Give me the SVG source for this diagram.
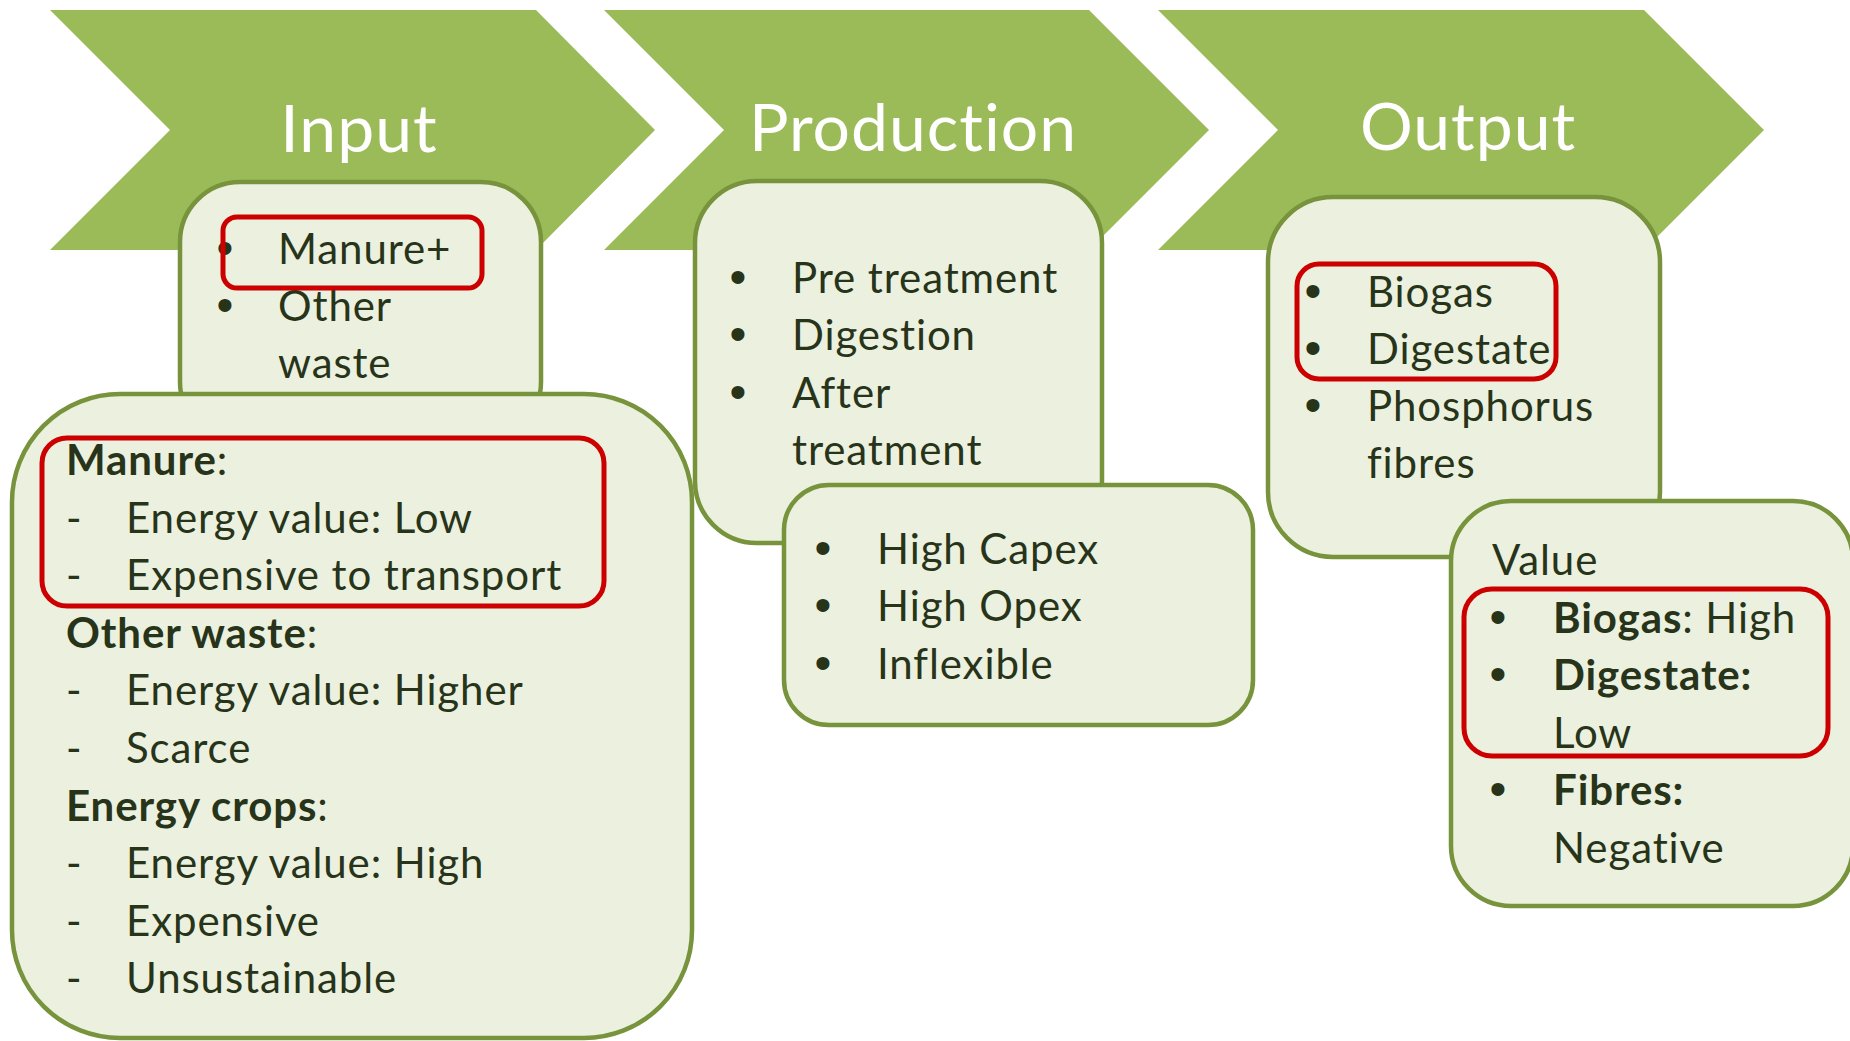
<svg xmlns="http://www.w3.org/2000/svg" width="1850" height="1041" viewBox="0 0 1850 1041">
<style>
.chev{fill:#9BBB59;}
.title{font-family:Lato,"Open Sans",sans-serif;font-size:66px;fill:#FFFFFF;text-anchor:middle;letter-spacing:1px;}
.box{fill:#EBF1DE;stroke:#77933C;stroke-width:4.5;}
.red{fill:none;stroke:#CC0000;stroke-width:5;}
.t{font-family:Lato,"Open Sans",sans-serif;font-size:42px;fill:#28341A;letter-spacing:0.9px;}
.b{font-weight:bold;}
.bul{font-family:"Liberation Sans",Arial,sans-serif;font-size:48px;fill:#28341A;text-anchor:middle;}
</style>
<rect width="1850" height="1041" fill="#FFFFFF"/>
<g id="stage-input">
<polygon class="chev" points="50,10 536,10 655,130 536,250 50,250 170,130"/>
<text class="title" x="359" y="152">Input</text>
</g>
<g id="stage-production">
<polygon class="chev" points="604,10 1089,10 1209,130 1089,250 604,250 724,130"/>
<text class="title" x="913" y="151">Production</text>
</g>
<g id="stage-output">
<polygon class="chev" points="1158,10 1644,10 1764,130 1644,250 1158,250 1278,130"/>
<text class="title" x="1468" y="150">Output</text>
</g>
<g id="input-list">
<rect class="box" x="180" y="182" width="361" height="260" rx="60"/>
<text class="bul" x="225" y="264">•</text>
<text class="t" x="278" y="264">Manure+</text>
<text class="bul" x="225" y="321">•</text>
<text class="t" x="278" y="321">Other</text>
<text class="t" x="278" y="378">waste</text>
</g>
<g id="highlight-manure-plus">
<rect class="red" x="223" y="217" width="259" height="71" rx="14"/>
</g>
<g id="input-details">
<rect class="box" x="12" y="394" width="680" height="644" rx="108"/>
<text class="t" x="66" y="475"><tspan class="b">Manure</tspan>:</text>
<text class="t" y="532.6"><tspan x="66">-</tspan><tspan x="126">Energy value: Low</tspan></text>
<text class="t" y="590.2"><tspan x="66">-</tspan><tspan x="126">Expensive to transport</tspan></text>
<text class="t" x="66" y="647.8"><tspan class="b">Other waste</tspan>:</text>
<text class="t" y="705.4"><tspan x="66">-</tspan><tspan x="126">Energy value: Higher</tspan></text>
<text class="t" y="763"><tspan x="66">-</tspan><tspan x="126">Scarce</tspan></text>
<text class="t" x="66" y="820.6"><tspan class="b">Energy crops</tspan>:</text>
<text class="t" y="878.2"><tspan x="66">-</tspan><tspan x="126">Energy value: High</tspan></text>
<text class="t" y="935.8"><tspan x="66">-</tspan><tspan x="126">Expensive</tspan></text>
<text class="t" y="993.4"><tspan x="66">-</tspan><tspan x="126">Unsustainable</tspan></text>
</g>
<g id="highlight-manure">
<rect class="red" x="42" y="438" width="562" height="168" rx="25"/>
</g>
<g id="production-steps">
<rect class="box" x="695" y="181" width="407" height="362" rx="62"/>
<text class="bul" x="738" y="293">•</text>
<text class="t" x="792" y="293">Pre treatment</text>
<text class="bul" x="738" y="350.3">•</text>
<text class="t" x="792" y="350.3">Digestion</text>
<text class="bul" x="738" y="407.6">•</text>
<text class="t" x="792" y="407.6">After</text>
<text class="t" x="792" y="464.9">treatment</text>
</g>
<g id="production-costs">
<rect class="box" x="784" y="485" width="469" height="240" rx="45"/>
<text class="bul" x="823" y="564">•</text>
<text class="t" x="877" y="564">High Capex</text>
<text class="bul" x="823" y="621.3">•</text>
<text class="t" x="877" y="621.3">High Opex</text>
<text class="bul" x="823" y="678.6">•</text>
<text class="t" x="877" y="678.6">Inflexible</text>
</g>
<g id="output-list">
<rect class="box" x="1268" y="197" width="392" height="360" rx="65"/>
<text class="bul" x="1313" y="307">•</text>
<text class="t" x="1367" y="307">Biogas</text>
<text class="bul" x="1313" y="364">•</text>
<text class="t" x="1367" y="364">Digestate</text>
<text class="bul" x="1313" y="421">•</text>
<text class="t" x="1367" y="421">Phosphorus</text>
<text class="t" x="1367" y="478">fibres</text>
</g>
<g id="highlight-biogas-digestate">
<rect class="red" x="1297" y="264" width="259" height="115" rx="22"/>
</g>
<g id="output-value">
<rect class="box" x="1451" y="501" width="402" height="405" rx="60"/>
<text class="t" x="1492" y="575">Value</text>
<text class="bul" x="1498" y="633">•</text>
<text class="t" x="1553" y="633"><tspan class="b">Biogas</tspan>: High</text>
<text class="bul" x="1498" y="690">•</text>
<text class="t b" x="1553" y="690">Digestate:</text>
<text class="t" x="1553" y="748">Low</text>
<text class="bul" x="1498" y="805">•</text>
<text class="t b" x="1553" y="805">Fibres:</text>
<text class="t" x="1553" y="863">Negative</text>
</g>
<g id="highlight-value">
<rect class="red" x="1464" y="589" width="364" height="167" rx="28"/>
</g>
<g id="connectors"/>
</svg>
